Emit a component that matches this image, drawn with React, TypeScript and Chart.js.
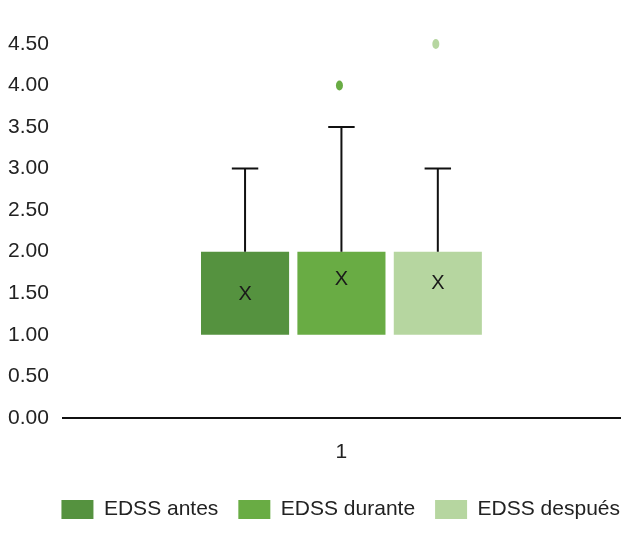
import React, { useEffect, useRef } from "react";
import { Chart, registerables } from "chart.js";

Chart.register(...registerables);

const categories = ["1"];
const seriesNames = ["EDSS antes", "EDSS durante", "EDSS después"];
const seriesColors = ["#55923f", "#69ac44", "#b6d6a0"];
const q1Values = [1, 1, 1];
const q3Values = [2, 2, 2];
const maxValues = [3, 3.5, 3];
const meanValues = [1.48, 1.67, 1.62];
const outlierValues: number[][] = [[], [4], [4.5]];
const yMin = 0;
const yMax = 4.5;
const yStep = 0.5;

const FONT = "'Liberation Sans', Arial, sans-serif";

const boxExtras = {
  id: "boxExtras",
  afterDatasetsDraw(chart: any) {
    const y = chart.scales.y;
    const ctx = chart.ctx;
    chart.data.datasets.forEach((_ds: any, i: number) => {
      const meta = chart.getDatasetMeta(i);
      meta.data.forEach((bar: any) => {
        const x = bar.x;
        const w = bar.width;
        const top = y.getPixelForValue(q3Values[i]);
        const wy = y.getPixelForValue(maxValues[i]);
        ctx.save();
        ctx.strokeStyle = "#111";
        ctx.lineWidth = 2;
        ctx.beginPath();
        ctx.moveTo(x, top);
        ctx.lineTo(x, wy);
        ctx.moveTo(x - w * 0.15, wy);
        ctx.lineTo(x + w * 0.15, wy);
        ctx.stroke();
        ctx.fillStyle = "#1a1a1a";
        ctx.font = "20px " + FONT;
        ctx.textAlign = "center";
        ctx.textBaseline = "middle";
        ctx.fillText("X", x, y.getPixelForValue(meanValues[i]));
        outlierValues[i].forEach((v) => {
          ctx.fillStyle = seriesColors[i];
          ctx.beginPath();
          ctx.ellipse(x - 2, y.getPixelForValue(v), 3.5, 5, 0, 0, Math.PI * 2);
          ctx.fill();
        });
        ctx.restore();
      });
    });
  },
};

export default function App() {
  const ref = useRef<HTMLCanvasElement | null>(null);
  useEffect(() => {
    if (!ref.current) return;
    const chart = new Chart(ref.current, {
      type: "bar",
      data: {
        labels: categories,
        datasets: seriesNames.map((name, i) => ({
          label: name,
          data: categories.map(() => [q1Values[i], q3Values[i]]),
          backgroundColor: seriesColors[i],
          borderWidth: 0,
          categoryPercentage: 0.519,
          barPercentage: 0.914,
        })),
      },
      options: {
        animation: false,
        responsive: false,
        maintainAspectRatio: false,
        layout: { padding: { top: 44, right: 0, left: -6, bottom: 3 } },
        plugins: {
          tooltip: { enabled: false },
          legend: {
            position: "bottom",
            align: "end",
            labels: {
              boxWidth: 32,
              boxHeight: 19,
              padding: 20,
              color: "#222",
              font: { family: FONT, size: 21 },
            },
          },
        },
        scales: {
          x: {
            grid: { display: false },
            border: { display: true, color: "#111", width: 2 },
            ticks: {
              color: "#222",
              padding: 14,
              font: { family: FONT, size: 21 },
            },
          },
          y: {
            min: yMin,
            max: yMax,
            grid: { display: false, drawTicks: false },
            border: { display: false },
            ticks: {
              stepSize: yStep,
              color: "#222",
              padding: 14,
              callback: (v: any) => Number(v).toFixed(2),
              font: { family: FONT, size: 21 },
            },
          },
          yRight: {
            position: "right",
            grid: { display: false, drawTicks: false },
            border: { display: false },
            ticks: { display: false },
            afterFit: (scale: any) => {
              scale.width = 20;
            },
          },
        },
      },
      plugins: [boxExtras],
    });
    return () => chart.destroy();
  }, []);
  return (
    <div style={{ position: "fixed", left: 0, top: 0, width: 640, height: 533, background: "#fff" }}>
      <canvas ref={ref} width={640} height={533} />
    </div>
  );
}
